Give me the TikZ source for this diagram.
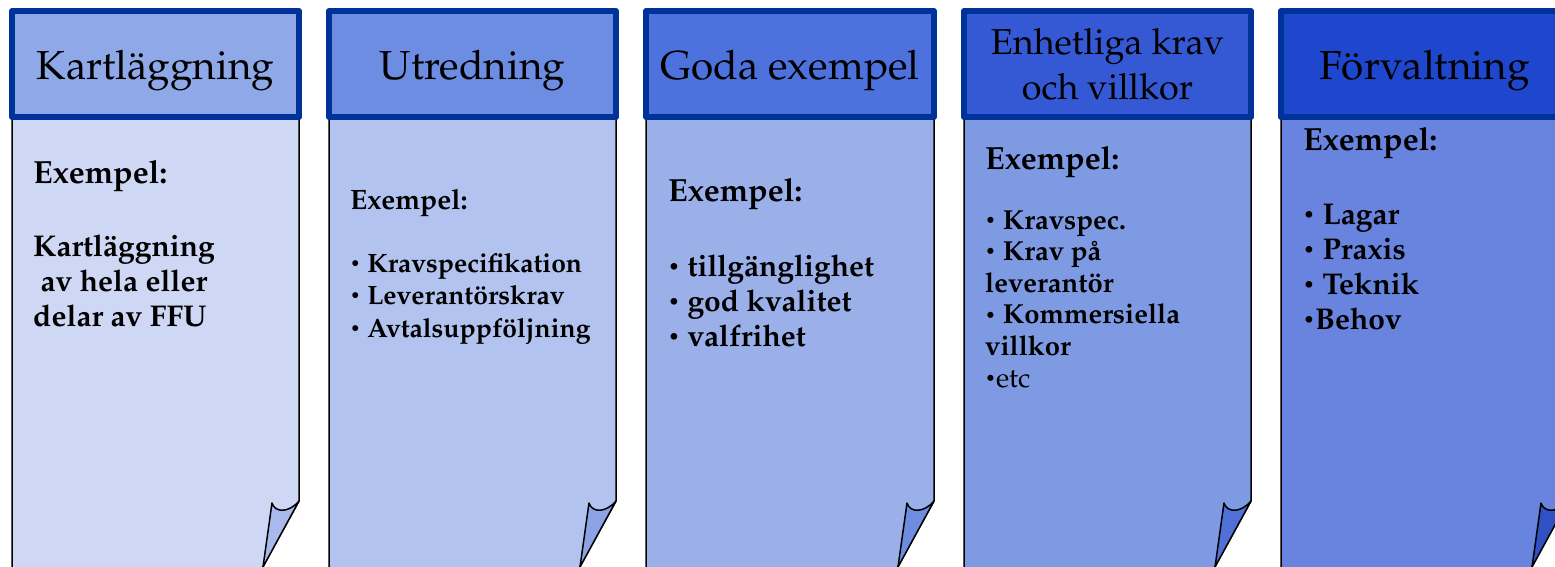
\documentclass[tikz,border=0pt]{standalone}
\usepackage[T1]{fontenc}
\usepackage{mathpazo}
\usepackage{graphicx}
\usepackage{tikz}

\newcommand{\punkt}{\raisebox{0.1em}{\scalebox{0.65}{\textbullet}}}

\begin{document}
\begin{tikzpicture}[x=1pt, y=-1pt, line join=round,
    rubrik/.style={font=\fontsize{40.5}{46}\selectfont, inner sep=0pt, anchor=base},
    exempel/.style={font=\bfseries\fontsize{32}{38}\selectfont, inner sep=0pt, anchor=base west},
    punkter/.style={font=\bfseries\fontsize{30}{35}\selectfont, inner sep=0pt, anchor=base west, align=left},
    blad/.style={draw=black, line width=1.5pt},
    huvud/.style={draw=headblue, line width=6pt}]
  % färger
  \definecolor{headblue}{RGB}{0,51,153}
  \definecolor{headA}{RGB}{143,168,232}
  \definecolor{headB}{RGB}{109,141,226}
  \definecolor{headC}{RGB}{78,114,221}
  \definecolor{headD}{RGB}{53,89,213}
  \definecolor{headE}{RGB}{30,71,206}
  \definecolor{bodyA}{RGB}{206,216,245}
  \definecolor{bodyB}{RGB}{179,195,239}
  \definecolor{bodyC}{RGB}{155,176,233}
  \definecolor{bodyD}{RGB}{126,154,227}
  \definecolor{bodyE}{RGB}{104,132,222}
  \definecolor{flapA}{RGB}{169,185,236}
  \definecolor{flapB}{RGB}{140,163,230}
  \definecolor{flapC}{RGB}{110,140,224}
  \definecolor{flapD}{RGB}{80,112,216}
  \definecolor{flapE}{RGB}{48,80,195}

  \useasboundingbox (0,0) rectangle (1555,567);

  % --- Kartläggning ---
  \filldraw[blad, fill=bodyA] (12,581) -- (12,117) -- (299,117) -- (299,501) -- (255,581) -- cycle;
  \filldraw[blad, fill=flapA] (299,501) .. controls (289,513) and (275,513) .. (272,503) -- (263,567) -- cycle;
  \filldraw[huvud, fill=headA] (12,11) rectangle (299,117);
  \node[rubrik] (Kartlaggning) at (155.5,80) {Kartläggning};
  \node[exempel] (ExA) at (33,183) {Exempel:};
  \node[punkter] (PunktA) at (33,326) {Kartläggning\\\hspace{0.25em}av hela eller\\delar av FFU};

  % --- Utredning ---
  \filldraw[blad, fill=bodyB] (329,581) -- (329,117) -- (616,117) -- (616,501) -- (572,581) -- cycle;
  \filldraw[blad, fill=flapB] (616,501) .. controls (606,513) and (592,513) .. (589,503) -- (580,567) -- cycle;
  \filldraw[huvud, fill=headB] (329,11) rectangle (616,117);
  \node[rubrik] (Utredning) at (472.5,80) {Utredning};
  \node[exempel, font=\bfseries\fontsize{28}{32}\selectfont] (ExB) at (350,209) {Exempel:};
  \node[punkter, font=\bfseries\fontsize{26.5}{32.5}\selectfont] (PunktB) at (350,337)
    {\punkt\ Kravspecifikation\\\punkt\ Leverantörskrav\\\punkt\ Avtalsuppföljning};

  % --- Goda exempel ---
  \filldraw[blad, fill=bodyC] (646,581) -- (646,117) -- (934,117) -- (934,501) -- (890,581) -- cycle;
  \filldraw[blad, fill=flapC] (934,501) .. controls (924,513) and (910,513) .. (907,503) -- (898,567) -- cycle;
  \filldraw[huvud, fill=headC] (646,11) rectangle (934,117);
  \node[rubrik] (GodaExempel) at (790,80) {Goda exempel};
  \node[exempel] (ExC) at (668,201) {Exempel:};
  \node[punkter] (PunktC) at (668,346)
    {\punkt\ tillgänglighet\\\punkt\ god kvalitet\\\punkt\ valfrihet};

  % --- Enhetliga krav och villkor ---
  \filldraw[blad, fill=bodyD] (964,581) -- (964,117) -- (1251,117) -- (1251,501) -- (1207,581) -- cycle;
  \filldraw[blad, fill=flapD] (1251,501) .. controls (1241,513) and (1227,513) .. (1224,503) -- (1215,567) -- cycle;
  \filldraw[huvud, fill=headD] (964,11) rectangle (1251,117);
  \node[rubrik, font=\fontsize{36}{45}\selectfont, align=center] (Enhetliga) at (1107.5,100)
    {Enhetliga krav\\och villkor};
  \node[exempel] (ExD) at (985,169) {Exempel:};
  \node[punkter, font=\bfseries\fontsize{27.5}{31.6}\selectfont] (PunktD) at (985,387)
    {\punkt\ Kravspec.\\\punkt\ Krav på\\leverantör\\\punkt\ Kommersiella\\villkor\\{\mdseries\punkt etc}};

  % --- Förvaltning ---
  \filldraw[blad, fill=bodyE] (1281,581) -- (1281,117) -- (1568,117) -- (1568,501) -- (1524,581) -- cycle;
  \filldraw[blad, fill=flapE] (1568,501) .. controls (1558,513) and (1544,513) .. (1541,503) -- (1532,567) -- cycle;
  \filldraw[huvud, fill=headE] (1281,11) rectangle (1568,117);
  \node[rubrik] (Forvaltning) at (1424.5,80) {Förvaltning};
  \node[exempel] (ExE) at (1303,150) {Exempel:};
  \node[punkter] (PunktE) at (1303,329)
    {\punkt\ Lagar\\\punkt\ Praxis\\\punkt\ Teknik\\\punkt Behov};

\end{tikzpicture}
\end{document}
